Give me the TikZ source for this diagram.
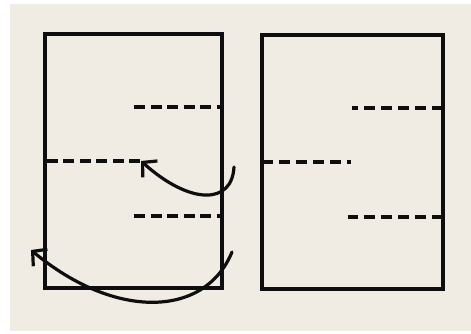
\documentclass[tikz,border=0pt]{standalone}
\usetikzlibrary{arrows.meta}
\definecolor{paper}{RGB}{240,236,228}
\definecolor{ink}{RGB}{15,14,14}
\begin{document}
\begin{tikzpicture}[x=1pt,y=-1pt,
  sheet/.style={draw=ink,line width=3.4pt,line join=miter},
  foldline/.style={draw=ink,line width=3.4pt,dash pattern=on 11pt off 5.5pt},
  foldarrow/.style={draw=ink,line width=3.2pt,line cap=round,
    -{Straight Barb[length=10pt,width=22pt,line width=3.2pt]}}]
\useasboundingbox (0,0) rectangle (471,334);
\fill[white] (0,0) rectangle (471,334);
\fill[paper] (10,4) rectangle (471,331);
% left sheet
\coordinate (LA) at (45,34);
\coordinate (LB) at (222,288);
\draw[sheet] (LA) rectangle (LB);
\coordinate (lu1) at (134,107); \coordinate (lu2) at (222,107);
\coordinate (lm1) at (45,161);  \coordinate (lm2) at (140,161);
\coordinate (ll1) at (134,216); \coordinate (ll2) at (222,216);
\draw[foldline] (lu1) -- (lu2);
\draw[foldline] (lm2) -- (lm1);
\draw[foldline] (ll1) -- (ll2);
% right sheet
\coordinate (RA) at (262,35);
\coordinate (RB) at (443,289);
\draw[sheet] (RA) rectangle (RB);
\coordinate (ru1) at (352,108); \coordinate (ru2) at (443,108);
\coordinate (rm1) at (262,162); \coordinate (rm2) at (351,162);
\coordinate (rl1) at (348,217); \coordinate (rl2) at (443,217);
\draw[foldline,dash pattern=on 11pt off 6pt] (ru2) -- (ru1);
\draw[foldline,dash pattern=on 11pt off 6pt] (rm1) -- (rm2);
\draw[foldline,dash pattern=on 11pt off 6pt] (rl2) -- (rl1);
% fold arrows
\coordinate (a1s) at (234,167); \coordinate (a1e) at (141,161);
\coordinate (a2s) at (232,252); \coordinate (a2e) at (31,250);
\draw[foldarrow] (a1s) .. controls (232,205) and (190,205) .. (a1e);
\draw[foldarrow] (a2s) .. controls (205,318) and (115,320) .. (a2e);
\end{tikzpicture}
\end{document}
